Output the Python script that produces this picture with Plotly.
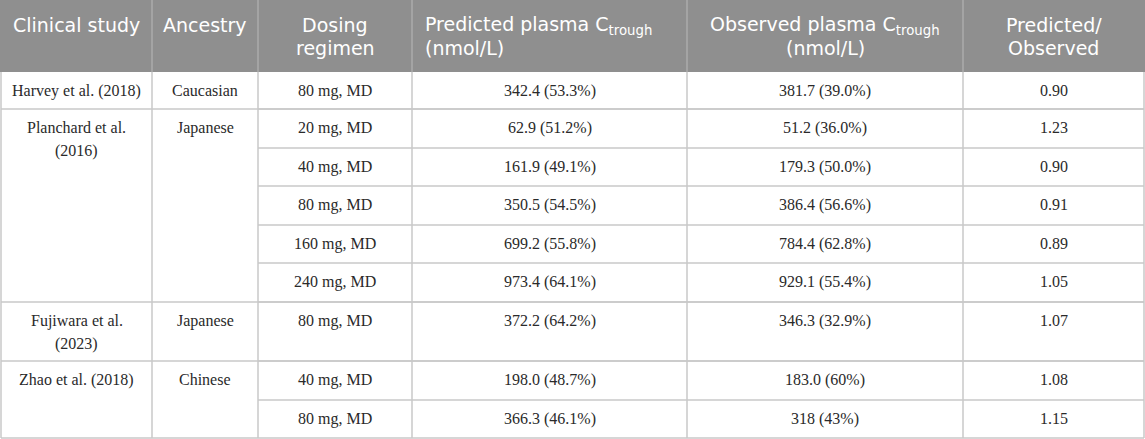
"""
Table: predicted vs observed plasma C_trough per clinical study
"""

##========[ MODULES ]========##
import plotly.graph_objects as go

##========[ DATA ]========##
studies = ["Harvey et al. (2018)", "Planchard et al.<br>(2016)",
           "Fujiwara et al.<br>(2023)", "Zhao et al. (2018)"]
ancestry = ["Caucasian", "Japanese", "Japanese", "Chinese"]
group_sizes = [1, 5, 1, 2]		# rows spanned by each study

doses = ["80 mg, MD", "20 mg, MD", "40 mg, MD", "80 mg, MD", "160 mg, MD",
         "240 mg, MD", "80 mg, MD", "40 mg, MD", "80 mg, MD"]
predicted = ["342.4 (53.3%)", "62.9 (51.2%)", "161.9 (49.1%)", "350.5 (54.5%)",
             "699.2 (55.8%)", "973.4 (64.1%)", "372.2 (64.2%)", "198.0 (48.7%)",
             "366.3 (46.1%)"]
observed = ["381.7 (39.0%)", "51.2 (36.0%)", "179.3 (50.0%)", "386.4 (56.6%)",
            "784.4 (62.8%)", "929.1 (55.4%)", "346.3 (32.9%)", "183.0 (60%)",
            "318 (43%)"]
ratio = ["0.90", "1.23", "0.90", "0.91", "0.89", "1.05", "1.07", "1.08", "1.15"]

headers = ["Clinical study", "Ancestry", "Dosing<br>regimen",
           "Predicted plasma C<sub>trough</sub><br>(nmol/L)",
           "Observed plasma C<sub>trough</sub><br>(nmol/L)",
           "Predicted/<br>Observed"]

##========[ LAYOUT ]========##
W, H = 1145, 439
col_edges = [1, 152, 258, 412, 687, 963, 1144]
header_h = 72
row_heights = [37, 39, 38, 39, 38, 39, 59, 39, 38]

HEAD_BG = "#8f8f8f"
HEAD_SEP = "#ababab"
GRID = "#c9c9c9"
TXT = "#2a2a2a"
HEAD_FONT = dict(family="DejaVu Sans, sans-serif", size=19, color="white")
BODY_FONT = dict(family="Liberation Serif, Times New Roman, serif", size=16, color=TXT)


def line(fig, x0, y0, x1, y1, color=GRID, width=1.5):
	fig.add_shape(type="line", xref="x", yref="y", x0=x0, y0=y0, x1=x1, y1=y1,
	              line=dict(color=color, width=width), layer="above")


def cell_text(fig, col, top, text, font, first=18.5, pitch=23, align="center"):
	"""
	Writes a (multi-line) text at the top of a cell, one annotation per line
	"""
	x0, x1 = col_edges[col], col_edges[col + 1]
	if align == "left":
		x, anchor = x0 + 11, "left"
	else:
		x, anchor = (x0 + x1) / 2, "center"
	for i, part in enumerate(text.split("<br>")):
		fig.add_annotation(x=x, y=top + first + i * pitch, xref="x", yref="y",
		                   text=part, showarrow=False, xanchor=anchor,
		                   yanchor="middle", font=font)


##========[ FIGURE ]========##
fig = go.Figure()

# header band
fig.add_shape(type="rect", xref="x", yref="y", x0=0, y0=0, x1=W, y1=header_h,
              fillcolor=HEAD_BG, line=dict(width=0), layer="below")
for x in col_edges[1:-1]:
	line(fig, x, 0, x, header_h, color=HEAD_SEP)
for c, h in enumerate(headers):
	cell_text(fig, c, 0, h, HEAD_FONT, first=25, pitch=22.5,
	          align="left" if c == 3 else "center")

# row tops
row_tops = [header_h]
for h in row_heights:
	row_tops.append(row_tops[-1] + h)

# body rows
for r in range(len(doses)):
	top = row_tops[r]
	cell_text(fig, 2, top, doses[r], BODY_FONT)
	cell_text(fig, 3, top, predicted[r], BODY_FONT)
	cell_text(fig, 4, top, observed[r], BODY_FONT)
	cell_text(fig, 5, top, ratio[r], BODY_FONT)
	if r > 0:
		line(fig, col_edges[2], top, col_edges[-1], top)

# study groups (merged cells)
r = 0
for study, anc, n in zip(studies, ancestry, group_sizes):
	top = row_tops[r]
	cell_text(fig, 0, top, study, BODY_FONT)
	cell_text(fig, 1, top, anc, BODY_FONT)
	if r > 0:
		line(fig, col_edges[0], top, col_edges[-1], top)
	r += n

# vertical lines + outer frame
bottom = row_tops[-1]
for x in col_edges:
	line(fig, x, header_h, x, bottom)
line(fig, col_edges[0], bottom, col_edges[-1], bottom)

fig.update_xaxes(range=[0, W], visible=False, fixedrange=True)
fig.update_yaxes(range=[H, 0], visible=False, fixedrange=True)
fig.update_layout(width=W, height=H, margin=dict(l=0, r=0, t=0, b=0),
                  plot_bgcolor="white", paper_bgcolor="white", showlegend=False)

# page body has a default 8px margin, drop it so the table fills the window
fig.write_html("out.html", config={"displayModeBar": False},
               post_script="document.body.style.margin='0';")
